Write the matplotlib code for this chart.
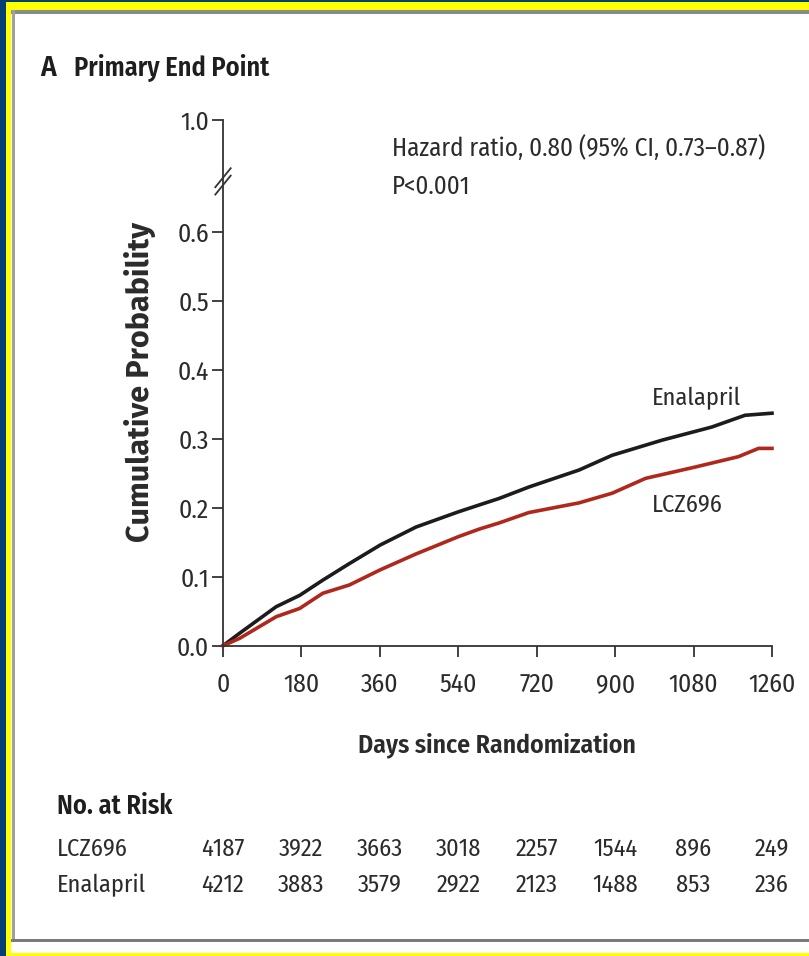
import matplotlib
matplotlib.use("Agg")
import matplotlib.pyplot as plt
from matplotlib.patches import Rectangle
from matplotlib.lines import Line2D

# ---------------- data ----------------
days_enal = [0, 38, 122, 176, 229, 290, 361, 443, 540, 588, 634, 702, 817, 893, 1008, 1122, 1198, 1260]
prob_enal = [0.0, 0.018, 0.0565, 0.073, 0.095, 0.119, 0.146, 0.172, 0.194, 0.204, 0.2135, 0.230, 0.2546, 0.276, 0.298, 0.317, 0.334, 0.337]
days_lcz = [0, 38, 122, 176, 229, 290, 361, 443, 540, 588, 634, 702, 817, 893, 970, 1084, 1183, 1229, 1260]
prob_lcz = [0.0, 0.0106, 0.042, 0.054, 0.076, 0.088, 0.110, 0.133, 0.158, 0.169, 0.178, 0.193, 0.207, 0.221, 0.2426, 0.259, 0.274, 0.286, 0.286]

xticks = [0, 180, 360, 540, 720, 900, 1080, 1260]
yticks = [0.0, 0.1, 0.2, 0.3, 0.4, 0.5, 0.6]
ytick_labels = ["0.0", "0.1", "0.2", "0.3", "0.4", "0.5", "0.6"]
top_label = "1.0"
risk_groups = ["LCZ696", "Enalapril"]
risk_lcz = [4187, 3922, 3663, 3018, 2257, 1544, 896, 249]
risk_enal = [4212, 3883, 3579, 2922, 2123, 1488, 853, 236]

NARROW = ["Fira Sans Condensed", "Roboto Condensed", "Liberation Sans", "DejaVu Sans"]
BOLDY = ["Fira Sans", "Liberation Sans", "DejaVu Sans"]
plt.rcParams["font.family"] = NARROW
TXT = "#2b2b2b"
W, H = 809, 956

fig = plt.figure(figsize=(W / 100, H / 100), dpi=100)
fig.patch.set_facecolor("white")

def px(x0, y0, w, h, color):
    fig.patches.append(Rectangle((x0 / W, 1 - (y0 + h) / H), w / W, h / H,
                                 transform=fig.transFigure, color=color, zorder=0, lw=0))

def ftext(x, y, s, **kw):
    return fig.text(x / W, 1 - y / H, s, **kw)

# frame
px(0, 0, 6, H, "#053e74")
px(0, 0, W, 2, "#053e74")
px(6, 2, 5, H, "#ffff00")
px(6, 2, W, 8, "#ffff00")
px(6, 953, W, 3, "#ffff00")
px(11, 10, W, 4, "#8a8a8a")
px(12, 10, 3, 931, "#a0a0a0")
px(11, 939, W, 3, "#7a7a7a")

# axes
y_top = 0.762
ax = fig.add_axes([223 / W, 1 - 645.7 / H, (772 - 223) / W, (645.7 - 120) / H])
ax.set_xlim(0, 1260)
ax.set_ylim(0, y_top)
ax.patch.set_alpha(0)
for s in ["top", "right"]:
    ax.spines[s].set_visible(False)
for s in ["left", "bottom"]:
    ax.spines[s].set_color("#333333")
    ax.spines[s].set_linewidth(1.3)

ax.plot(days_enal, prob_enal, color="#1c1c1c", lw=2.6, clip_on=False, solid_joinstyle="round")
ax.plot(days_lcz, prob_lcz, color="#b0281c", lw=2.6, clip_on=False, solid_joinstyle="round")

ax.set_xticks(xticks)
ax.set_xticklabels([str(t) for t in xticks])
ax.set_yticks(yticks + [y_top])
ax.set_yticklabels(ytick_labels + [top_label])
ax.tick_params(axis="both", direction="out", length=8, width=1.3, color="#333333",
               labelcolor=TXT, labelsize=18.5, pad=2)
ax.tick_params(axis="x", pad=11)

# axis break
yb = 0.673 / y_top
for dy in (-0.007, 0.007):
    ax.add_line(Line2D([-0.014, 0.014], [yb + dy - 0.018, yb + dy + 0.018],
                       transform=ax.transAxes, color="#333333", lw=1.3, clip_on=False))

ftext(140, 382, "Cumulative Probability", fontsize=22, fontweight="bold", color=TXT,
      family=BOLDY, rotation=90, ha="center", va="center")
ftext(497, 745, "Days since Randomization", fontsize=18.5, fontweight="semibold", color=TXT,
      ha="center", va="center")

BODY = dict(fontsize=17.5, color=TXT)
ftext(392, 148, "Hazard ratio, 0.80 (95% CI, 0.73\u20130.87)", va="center", ha="left",
      fontsize=18, color=TXT)
ftext(392, 187, "P<0.001", va="center", ha="left", fontsize=18, color=TXT)
ftext(652, 398, "Enalapril", va="center", ha="left", **BODY)
ftext(652, 505, "LCZ696", va="center", ha="left", **BODY)

ftext(40, 68, "A", fontsize=21, fontweight="semibold", color="#1e1e1e", va="center")
ftext(74, 68, "Primary End Point", fontsize=19, fontweight="semibold", color="#1e1e1e", va="center")

# risk table
ftext(57, 806, "No. at Risk", fontsize=19, fontweight="semibold", color="#1e1e1e", va="center")
row_y = [849, 885]
for name, vals, yy in zip(risk_groups, [risk_lcz, risk_enal], row_y):
    ftext(57, yy, name, va="center", **BODY)
    for d, v in zip(xticks, vals):
        xf = ax.transData.transform((d, 0))[0]
        ftext(xf, yy, str(v), va="center", ha="center", **BODY)

fig.savefig("out.png", dpi=100)
